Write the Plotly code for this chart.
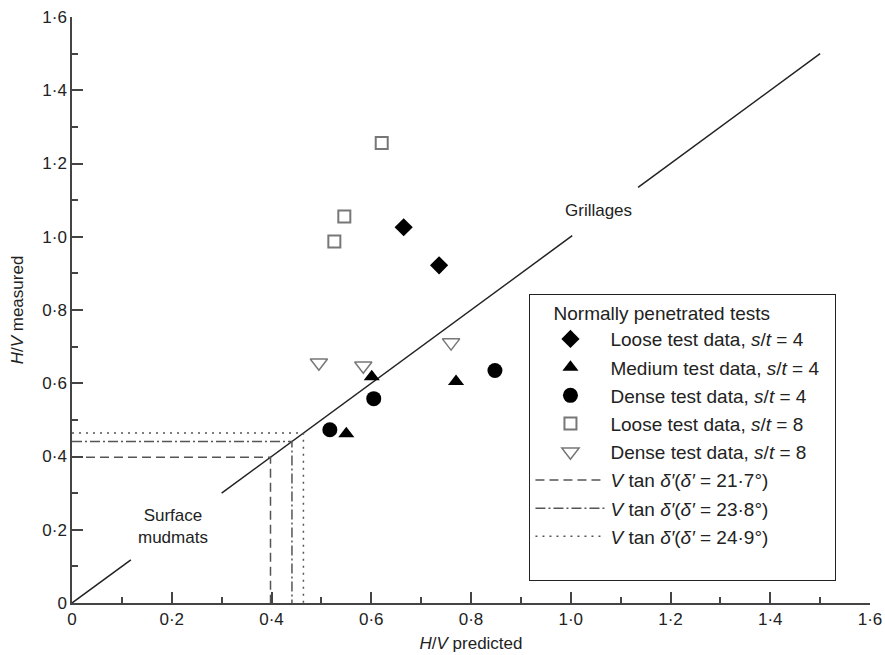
import plotly.graph_objects as go

# ---- data ----
loose4_x = [0.665, 0.736]
loose4_y = [1.026, 0.922]
medium4_x = [0.601, 0.550, 0.770]
medium4_y = [0.618, 0.462, 0.605]
dense4_x = [0.605, 0.517, 0.848]
dense4_y = [0.558, 0.473, 0.635]
loose8_x = [0.621, 0.546, 0.526]
loose8_y = [1.256, 1.055, 0.987]
dense8_x = [0.495, 0.584, 0.760]
dense8_y = [0.656, 0.648, 0.711]

equal_x = [0, 0.118, None, 0.30, 1.003, None, 1.135, 1.5]
equal_y = [0, 0.118, None, 0.30, 1.003, None, 1.135, 1.5]

ref_angles = ["21·7", "23·8", "24·9"]
ref_values = [0.398, 0.441, 0.464]
ref_dash = ["9px,5px", "10px,3px,2px,3px", "2px,5px"]

tick_vals = [0, 0.2, 0.4, 0.6, 0.8, 1.0, 1.2, 1.4, 1.6]
tick_text = ["0", "0·2", "0·4", "0·6", "0·8", "1·0", "1·2", "1·4", "1·6"]

FONT = "Liberation Sans, Arial, sans-serif"

fig = go.Figure()

fig.add_trace(go.Scatter(x=equal_x, y=equal_y, mode="lines",
                         line=dict(color="#222", width=1.5),
                         showlegend=False, hoverinfo="skip"))

fig.add_trace(go.Scatter(x=loose4_x, y=loose4_y, mode="markers", legendgroup="g1",
                         name="Loose test data, <i>s</i>/<i>t</i> = 4",
                         marker=dict(symbol="diamond", size=14, color="black")))
fig.add_trace(go.Scatter(x=medium4_x, y=medium4_y, mode="markers", legendgroup="g2",
                         name="Medium test data, <i>s</i>/<i>t</i> = 4\u00a0\u00a0",
                         marker=dict(symbol="triangle-up", size=14, color="black")))
fig.add_trace(go.Scatter(x=dense4_x, y=dense4_y, mode="markers", legendgroup="g3",
                         name="Dense test data, <i>s</i>/<i>t</i> = 4",
                         marker=dict(symbol="circle", size=15, color="black")))
fig.add_trace(go.Scatter(x=loose8_x, y=loose8_y, mode="markers", legendgroup="g4",
                         name="Loose test data, <i>s</i>/<i>t</i> = 8",
                         marker=dict(symbol="square-open", size=12, color="#777",
                                     line=dict(width=2, color="#777"))))
fig.add_trace(go.Scatter(x=dense8_x, y=dense8_y, mode="markers", legendgroup="g5",
                         name="Dense test data, <i>s</i>/<i>t</i> = 8",
                         marker=dict(symbol="triangle-down-open", size=15, color="#777",
                                     line=dict(width=1.5, color="#777"))))

for i, (ang, v, d) in enumerate(zip(ref_angles, ref_values, ref_dash)):
    label = f"<i>V</i> tan <i>δ′</i>(<i>δ′</i> = {ang}°)"
    if i == len(ref_angles) - 1:
        label += "<br>\u00a0"
    fig.add_trace(go.Scatter(x=[0, v, v], y=[v, v, 0], mode="lines",
                             legendgroup=f"r{i}", name=label,
                             line=dict(color="#555", width=1.5, dash=d)))

fig.add_annotation(x=1.055, y=1.071, text="Grillages", showarrow=False,
                   font=dict(size=17, color="#222", family=FONT))
fig.add_annotation(x=0.202, y=0.208, text="Surface<br>mudmats", showarrow=False,
                   font=dict(size=17, color="#222", family=FONT))

axis_common = dict(
    range=[0, 1.6], tickvals=tick_vals, ticktext=tick_text,
    ticks="inside", ticklen=11, tickwidth=1.5, tickcolor="#444",
    showline=True, linecolor="#444", linewidth=1.5,
    showgrid=False, zeroline=False, automargin=False,
    tickfont=dict(size=17, color="#222", family=FONT),
    minor=dict(dtick=0.1, ticks="inside", ticklen=6, tickwidth=1.5, tickcolor="#444",
               showgrid=False),
)

fig.update_layout(
    width=885, height=655,
    margin=dict(l=72, r=15, t=17, b=52),
    paper_bgcolor="white", plot_bgcolor="white",
    font=dict(family=FONT, size=17, color="#222"),
    xaxis=dict(**axis_common,
               title=dict(text="<i>H</i>/<i>V</i> predicted", standoff=9,
                          font=dict(size=17, family=FONT))),
    yaxis=dict(**axis_common,
               title=dict(text="<i>H</i>/<i>V</i> measured", standoff=14,
                          font=dict(size=17, family=FONT))),
    legend=dict(x=0.573, y=0.527, xanchor="left", yanchor="top",
                bgcolor="white", bordercolor="#222", borderwidth=1.2,
                font=dict(size=19, family=FONT, color="#222"),
                title=dict(text="\u00a0\u00a0\u00a0\u00a0Normally penetrated tests",
                           font=dict(size=19)),
                itemwidth=70, tracegroupgap=0.5, traceorder="grouped", valign="top"),
    showlegend=True,
)

fig.write_html("out.html")
